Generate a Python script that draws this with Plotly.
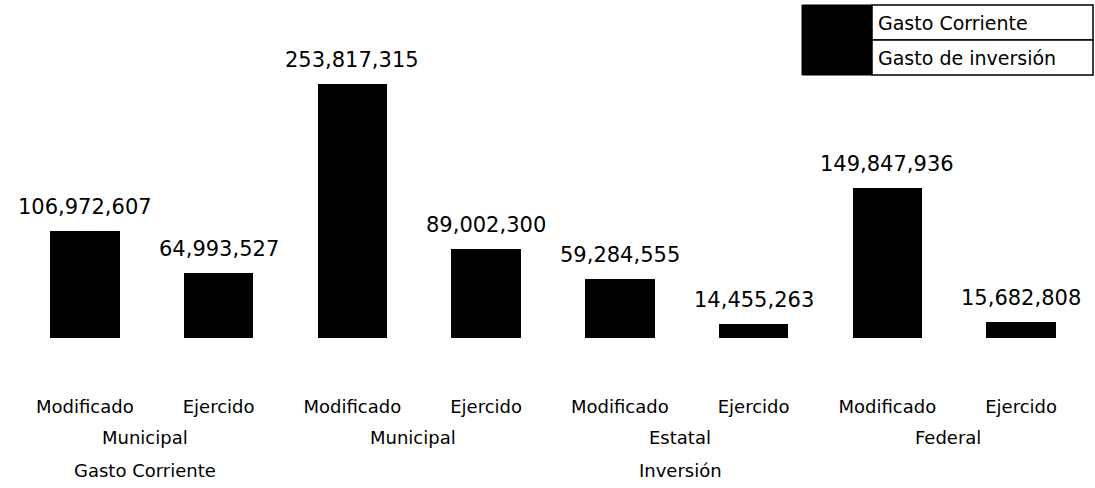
import plotly.graph_objects as go

# ---- data ----
etapas = ["Modificado", "Ejercido", "Modificado", "Ejercido",
          "Modificado", "Ejercido", "Modificado", "Ejercido"]
niveles = ["Municipal", "Municipal", "Estatal", "Federal"]
tipos = ["Gasto Corriente", "Inversión"]
gasto_corriente = [106972607, 64993527, None, None, None, None, None, None]
gasto_inversion = [None, None, 253817315, 89002300, 59284555, 14455263, 149847936, 15682808]
series_names = ["Gasto Corriente", "Gasto de inversión"]

FONT = "DejaVu Sans"
W, H = 1095, 488
ML, MR, MT, MB = 18, 7, 40, 150
PW, PH = W - ML - MR, H - MT - MB

def px_x(p):
    return (p - ML) / PW

def px_y(p):
    return (H - MB - p) / PH

xs = list(range(len(etapas)))

fig = go.Figure()
for name, vals in zip(series_names, [gasto_corriente, gasto_inversion]):
    fig.add_trace(go.Bar(
        x=xs, y=vals, name=name, width=0.52,
        marker=dict(color="black", line=dict(width=0)),
        showlegend=False,
    ))

annotations = []
# value labels
for i in xs:
    v = gasto_corriente[i] if gasto_corriente[i] is not None else gasto_inversion[i]
    annotations.append(dict(
        x=i, y=v, xref="x", yref="y", text=f"{v:,}", showarrow=False,
        yanchor="bottom", yshift=10, font=dict(family=FONT, size=21, color="black"),
    ))
# second level labels (nivel)
for k, nivel in enumerate(niveles):
    annotations.append(dict(
        x=2 * k + 0.45, y=0, xref="x", yref="paper", text=nivel, showarrow=False,
        yanchor="middle", yshift=-99, font=dict(family=FONT, size=18, color="black"),
    ))
# third level labels (tipo)
annotations.append(dict(
    x=0.45, y=0, xref="x", yref="paper", text=tipos[0], showarrow=False,
    yanchor="middle", yshift=-132, font=dict(family=FONT, size=18, color="black"),
))
annotations.append(dict(
    x=4.45, y=0, xref="x", yref="paper", text=tipos[1], showarrow=False,
    yanchor="middle", yshift=-132, font=dict(family=FONT, size=18, color="black"),
))

# custom legend (table-like)
shapes = []
bx0, bx1, cx1 = px_x(802), px_x(872), px_x(1093)
ry0, ry1, ry2 = px_y(5), px_y(40), px_y(75)
shapes.append(dict(type="rect", xref="paper", yref="paper", x0=bx0, x1=bx1, y0=ry2, y1=ry0,
                   fillcolor="black", line=dict(color="black", width=1)))
for (ya, yb), name in zip([(ry1, ry0), (ry2, ry1)], series_names):
    shapes.append(dict(type="rect", xref="paper", yref="paper", x0=bx1, x1=cx1, y0=ya, y1=yb,
                       fillcolor="white", line=dict(color="black", width=1.5)))
    annotations.append(dict(
        x=px_x(876), y=(ya + yb) / 2, xref="paper", yref="paper", text=name,
        showarrow=False, xanchor="left", yanchor="middle",
        font=dict(family=FONT, size=19, color="black"),
    ))

fig.update_layout(
    width=W, height=H,
    margin=dict(l=ML, r=MR, t=MT, b=MB),
    plot_bgcolor="white", paper_bgcolor="white",
    barmode="stack",
    annotations=annotations, shapes=shapes,
    font=dict(family=FONT, color="black"),
)
fig.update_xaxes(
    tickmode="array", tickvals=xs, ticktext=etapas, range=[-0.5, len(xs) - 0.5],
    showgrid=False, zeroline=False, showline=False, ticks="",
    ticklabelstandoff=56, tickfont=dict(family=FONT, size=18, color="black"),
)
fig.update_yaxes(range=[0, PH * 1e6], visible=False, showgrid=False)

fig.write_html("out.html", config={"displayModeBar": False},
               post_script="document.body.style.margin='0';")
